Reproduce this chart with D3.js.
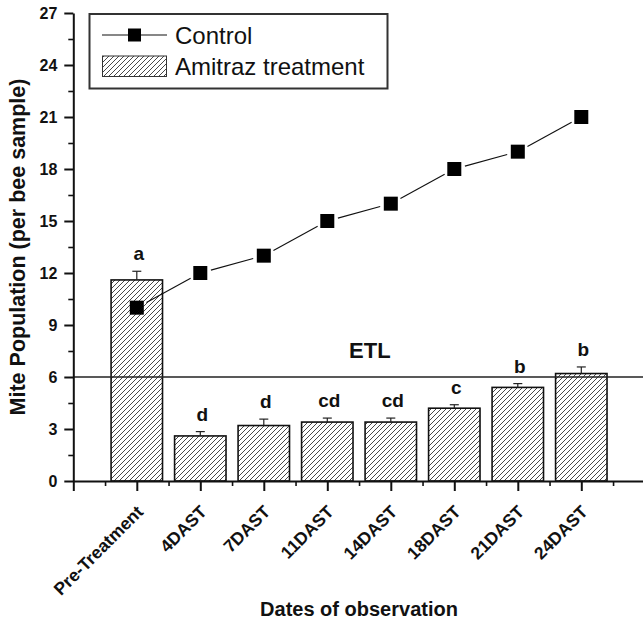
<!DOCTYPE html>
<html><head><meta charset="utf-8">
<script src="https://cdn.jsdelivr.net/npm/d3@7"></script>
<style>
body{margin:0;background:#fff;}
svg{display:block;font-family:Arial,"Liberation Sans",sans-serif;}
</style></head>
<body>
<svg id="chart" width="643" height="625"></svg>
<script>
const categories = ["Pre-Treatment","4DAST","7DAST","11DAST","14DAST","18DAST","21DAST","24DAST"];
const controlValues = [10,12,13,15,16,18,19,21];
const amitrazValues = [11.6,2.6,3.2,3.4,3.4,4.2,5.4,6.2];
const amitrazErrors = [0.5,0.25,0.37,0.23,0.23,0.2,0.22,0.38];
const groupLetters = ["a","d","d","cd","cd","c","b","b"];
const yTicks = [0,3,6,9,12,15,18,21,24,27];
const etlValue = 6;
const etlLabel = "ETL";
const seriesNames = ["Control","Amitraz treatment"];

const svg = d3.select("#chart");
const x = d3.scaleLinear().domain([0,9]).range([73.3,644.8]);
const y = d3.scaleLinear().domain([0,27]).range([481,13]);
const unit = x(1)-x(0);
const barW = unit*0.81;

const defs = svg.append("defs");
const pat = defs.append("pattern").attr("id","hatch").attr("patternUnits","userSpaceOnUse")
  .attr("width",5).attr("height",5);
pat.append("rect").attr("width",5).attr("height",5).attr("fill","#fff");
pat.append("path").attr("d","M-1,1 l2,-2 M0,5 l5,-5 M4,6 l2,-2")
  .attr("stroke","#333").attr("stroke-width",0.9);

// bars
const bars = svg.append("g");
bars.selectAll("rect").data(amitrazValues).join("rect")
  .attr("x",(d,i)=>x(i+1)-barW/2).attr("width",barW)
  .attr("y",d=>y(d)).attr("height",d=>y(0)-y(d))
  .attr("fill","url(#hatch)").attr("stroke","#111").attr("stroke-width",1.6);

// error bars (upper)
const eb = svg.append("g").attr("stroke","#222").attr("stroke-width",1.2);
amitrazValues.forEach((v,i)=>{
  const cx = x(i+1);
  eb.append("line").attr("x1",cx).attr("x2",cx).attr("y1",y(v)).attr("y2",y(v+amitrazErrors[i]));
  eb.append("line").attr("x1",cx-4.5).attr("x2",cx+4.5).attr("y1",y(v+amitrazErrors[i])).attr("y2",y(v+amitrazErrors[i]));
});

// letters
svg.append("g").selectAll("text").data(groupLetters).join("text")
  .attr("x",(d,i)=>x(i+1)+2).attr("y",(d,i)=>y(amitrazValues[i]+amitrazErrors[i])-11)
  .attr("text-anchor","middle").attr("font-weight","bold").attr("font-size",19).attr("fill","#111")
  .text(d=>d);

// ETL line
svg.append("line").attr("x1",x(0)).attr("x2",x(9)).attr("y1",y(etlValue)).attr("y2",y(etlValue))
  .attr("stroke","#222").attr("stroke-width",1.6);
svg.append("text").attr("x",x(4.67)).attr("y",y(7.1)).attr("text-anchor","middle")
  .attr("font-weight","bold").attr("font-size",22).attr("fill","#111").text(etlLabel);

// control line segments with gaps at markers
const pts = controlValues.map((v,i)=>[x(i+1),y(v)]);
const lg = svg.append("g").attr("stroke","#111").attr("stroke-width",1.1);
for(let i=0;i<pts.length-1;i++){
  const [x1,y1]=pts[i],[x2,y2]=pts[i+1];
  const L=Math.hypot(x2-x1,y2-y1), ux=(x2-x1)/L, uy=(y2-y1)/L, g=11;
  lg.append("line").attr("x1",x1+ux*g).attr("y1",y1+uy*g).attr("x2",x2-ux*g).attr("y2",y2-uy*g);
}
const ms = 14;
svg.append("g").selectAll("rect").data(controlValues).join("rect")
  .attr("x",(d,i)=>x(i+1)-ms/2).attr("y",d=>y(d)-ms/2).attr("width",ms).attr("height",ms)
  .attr("fill","#000");

// axes
const yAxis = svg.append("g").attr("transform",`translate(${x(0)},0)`)
  .call(d3.axisLeft(y).tickValues(yTicks).tickSize(9).tickPadding(7).tickSizeOuter(0));
const yMinor = svg.append("g").attr("transform",`translate(${x(0)},0)`)
  .call(d3.axisLeft(y).tickValues(yTicks.slice(0,-1).map(v=>v+1.5)).tickSize(5).tickFormat("").tickSizeOuter(0));
yMinor.select(".domain").remove();
yAxis.selectAll("text").attr("font-size",16).attr("font-weight","bold").attr("fill","#111");

const xMajor = [0,1,2,3,4,5,6,7,8];
const xAxis = svg.append("g").attr("transform",`translate(0,${y(0)})`)
  .call(d3.axisBottom(x).tickValues(xMajor).tickSize(10).tickSizeOuter(0)
    .tickFormat(d=>d===0?"":categories[d-1]));
const xMinor = svg.append("g").attr("transform",`translate(0,${y(0)})`)
  .call(d3.axisBottom(x).tickValues(xMajor.map(v=>v+0.5)).tickSize(5).tickFormat("").tickSizeOuter(0));
xMinor.select(".domain").remove();
xAxis.selectAll("text").attr("font-size",17.5).attr("font-weight","bold").attr("fill","#111")
  .attr("text-anchor","end").attr("dy",0).attr("y",0)
  .attr("transform","translate(7,32) rotate(-45)");

[yAxis,yMinor,xAxis,xMinor].forEach(a=>{
  a.selectAll("path,line").attr("stroke","#111").attr("stroke-width",2);
});
yMinor.selectAll("line").attr("stroke-width",1.6);
xMinor.selectAll("line").attr("stroke-width",1.6);

// axis titles
svg.append("text").attr("transform",`translate(25,${(y(0)+y(27))/2}) rotate(-90)`)
  .attr("text-anchor","middle").attr("font-weight","bold").attr("font-size",21.5).attr("fill","#111")
  .text("Mite Population (per bee sample)");
svg.append("text").attr("x",359).attr("y",616).attr("text-anchor","middle")
  .attr("font-weight","bold").attr("font-size",20).attr("fill","#111")
  .text("Dates of observation");

// legend
const leg = svg.append("g");
leg.append("rect").attr("x",89.5).attr("y",14).attr("width",298).attr("height",74.5)
  .attr("fill","#fff").attr("stroke","#333").attr("stroke-width",2);
leg.append("line").attr("x1",102).attr("x2",167).attr("y1",35).attr("y2",35).attr("stroke","#111").attr("stroke-width",1.1);
leg.append("rect").attr("x",134.5-6.5).attr("y",35-6.5).attr("width",13).attr("height",13).attr("fill","#000");
leg.append("rect").attr("x",102.5).attr("y",56).attr("width",64).attr("height",20.5)
  .attr("fill","url(#hatch)").attr("stroke","#333").attr("stroke-width",1);
leg.append("text").attr("x",175).attr("y",43.5).attr("font-size",24).attr("fill","#111").text(seriesNames[0]);
leg.append("text").attr("x",175).attr("y",74.5).attr("font-size",24).attr("fill","#111").text(seriesNames[1]);
</script>
</body></html>
